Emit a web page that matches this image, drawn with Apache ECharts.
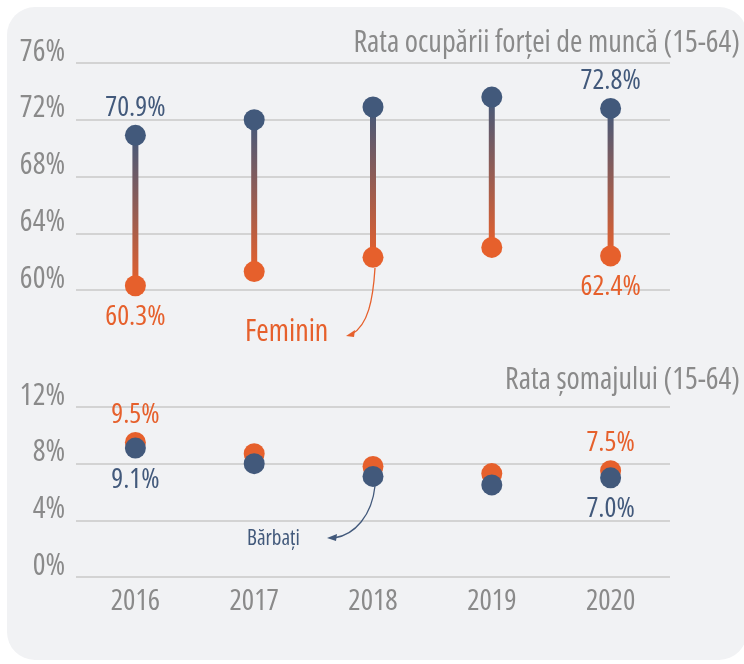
<!DOCTYPE html>
<html>
<head>
<meta charset="utf-8">
<script src="https://cdn.jsdelivr.net/npm/echarts@6/dist/echarts.min.js"></script>
<style>
  html, body { margin: 0; padding: 0; background: #ffffff; }
  #chart { width: 744px; height: 664px; }
</style>
</head>
<body>
<div id="chart"></div>
<script>
const years = ['2016', '2017', '2018', '2019', '2020']

// Rata ocuparii fortei de munca (15-64), %
const employMale = [70.9, 72.0, 72.9, 73.6, 72.8]
const employFemale = [60.3, 61.3, 62.3, 63.0, 62.4]

// Rata somajului (15-64), %
const unempMale = [9.1, 8.0, 7.1, 6.5, 7.0]
const unempFemale = [9.5, 8.7, 7.8, 7.3, 7.5]

// which points carry a value label (first and last year)
const labelled = [0, 4]

const NAVY = '#42597b'
const ORANGE = '#e6602c'
const GREY = '#8a8a8a'
// Open Sans is variable, 'condensed' picks the narrow width
const FONT = "'Open Sans', sans-serif"
const STRETCH = 'condensed'

const chart = echarts.init(document.getElementById('chart'), null, { renderer: 'canvas' })

function pct(v) {
  return v.toFixed(1) + '%'
}

function dots(values, color, xIdx, yIdx, pos, z) {
  return {
    type: 'scatter',
    xAxisIndex: xIdx,
    yAxisIndex: yIdx,
    symbolSize: 21,
    z: z,
    itemStyle: { color: color, opacity: 1 },
    data: values.map((v, i) => ({
      value: [i, v],
      label: {
        show: labelled.includes(i),
        position: pos,
        distance: pos === 'top' ? 3 : 7,
        formatter: pct(v),
        color: color,
        fontStyle: STRETCH,
        fontFamily: FONT,
        fontSize: 28
      }
    }))
  }
}

// vertical bar between male and female employment rate
const stems = {
  type: 'custom',
  xAxisIndex: 0,
  yAxisIndex: 0,
  z: 2,
  data: years.map((y, i) => [i, employMale[i], employFemale[i]]),
  renderItem: function (params, api) {
    const top = api.coord([api.value(0), api.value(1)])
    const bottom = api.coord([api.value(0), api.value(2)])
    return {
      type: 'rect',
      shape: { x: top[0] - 3, y: top[1], width: 6, height: bottom[1] - top[1] },
      style: {
        fill: new echarts.graphic.LinearGradient(0, 0, 0, 1, [
          { offset: 0, color: NAVY },
          { offset: 1, color: ORANGE }
        ])
      }
    }
  }
}

function yAxis(gridIdx, min, max) {
  return {
    type: 'value',
    gridIndex: gridIdx,
    min: min,
    max: max,
    interval: 4,
    axisLine: { show: false },
    axisTick: { show: false },
    splitLine: { lineStyle: { color: '#c8c8c8', width: 1.5 } },
    axisLabel: {
      formatter: '{value}%',
      color: GREY,
      fontStyle: STRETCH,
      fontFamily: FONT,
      fontSize: 30,
      margin: 11,
      verticalAlign: 'bottom',
      lineHeight: 22
    }
  }
}

function arrow(x1, y1, c1x, c1y, c2x, c2y, x2, y2, color, head) {
  return [
    {
      type: 'bezierCurve',
      shape: { x1: x1, y1: y1, cpx1: c1x, cpy1: c1y, cpx2: c2x, cpy2: c2y, x2: x2, y2: y2 },
      style: { stroke: color, lineWidth: 1.3, fill: null },
      z: 10
    },
    {
      type: 'polygon',
      shape: { points: head },
      style: { fill: color },
      z: 10
    }
  ]
}

const option = {
  animation: false,
  backgroundColor: '#ffffff',
  grid: [
    { left: 76, right: 74, top: 63, height: 227 },
    { left: 76, right: 74, top: 407, height: 170 }
  ],
  xAxis: [
    { type: 'category', gridIndex: 0, data: years, show: false },
    {
      type: 'category',
      gridIndex: 1,
      data: years,
      axisLine: { show: false },
      axisTick: { show: false },
      axisLabel: { color: GREY, fontStyle: STRETCH, fontFamily: FONT, fontSize: 29, margin: 10 }
    }
  ],
  yAxis: [yAxis(0, 60, 76), yAxis(1, 0, 12)],
  graphic: [
    {
      type: 'rect',
      shape: { x: 7, y: 7, width: 740, height: 653, r: 28 },
      style: { fill: '#f1f2f4' },
      z: -10,
      silent: true
    },
    {
      type: 'text',
      right: 4,
      top: 28,
      style: { text: 'Rata ocupării forței de muncă (15-64)', fill: GREY, font: STRETCH + ' 30px ' + FONT }
    },
    {
      type: 'text',
      right: 4,
      top: 365,
      style: { text: 'Rata șomajului (15-64)', fill: GREY, font: STRETCH + ' 30px ' + FONT }
    },
    {
      type: 'text',
      left: 245,
      top: 317,
      style: { text: 'Feminin', fill: ORANGE, font: STRETCH + ' 500 30px ' + FONT }
    },
    {
      type: 'text',
      left: 247,
      top: 529,
      style: { text: 'Bărbați', fill: NAVY, font: STRETCH + ' 21px ' + FONT }
    },
    ...arrow(375, 268, 373, 300, 368, 325, 352, 334, ORANGE,
      [[346, 336], [355, 330], [354, 337]]),
    ...arrow(375, 486, 372, 515, 355, 535, 334, 538, NAVY,
      [[327, 538], [337, 534], [336, 541]])
  ],
  series: [
    stems,
    dots(employMale, NAVY, 0, 0, 'top', 3),
    dots(employFemale, ORANGE, 0, 0, 'bottom', 3),
    dots(unempFemale, ORANGE, 1, 1, 'top', 3),
    dots(unempMale, NAVY, 1, 1, 'bottom', 4)
  ]
}

chart.setOption(option)
</script>
</body>
</html>
